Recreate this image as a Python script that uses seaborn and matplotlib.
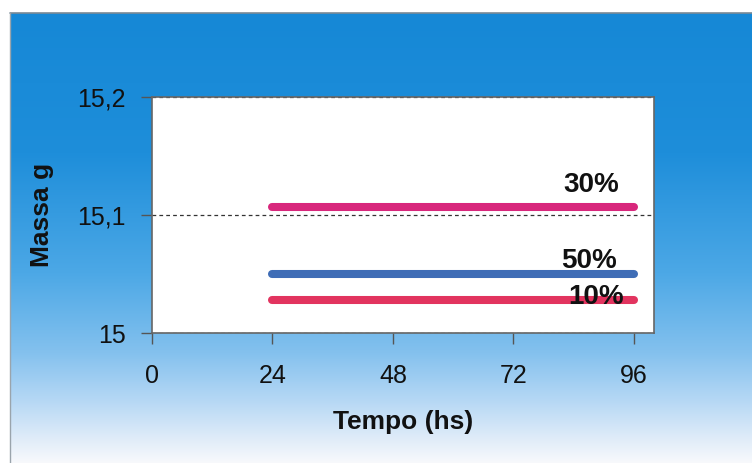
import numpy as np
import pandas as pd
import matplotlib
matplotlib.use("Agg")
import matplotlib.pyplot as plt
import seaborn as sns

# Measurements: sample mass over time for each concentration
tempo = [24, 48, 72, 96]
massa_30 = [15.107, 15.107, 15.107, 15.107]
massa_50 = [15.050, 15.050, 15.050, 15.050]
massa_10 = [15.028, 15.028, 15.028, 15.028]
series_names = ["30%", "50%", "10%"]
series_colors = ["#d8277c", "#3f6db6", "#e2345f"]

x_ticks = [0, 24, 48, 72, 96]
y_ticks = [15.0, 15.1, 15.2]
y_tick_labels = ["15", "15,1", "15,2"]

df = pd.DataFrame({
    "Tempo": tempo * 3,
    "Massa": massa_30 + massa_50 + massa_10,
    "Serie": [series_names[0]] * len(tempo)
             + [series_names[1]] * len(tempo)
             + [series_names[2]] * len(tempo),
})

sns.set_theme(style="white")
plt.rcParams["font.family"] = ["Liberation Sans", "DejaVu Sans"]

W, H = 752, 463
fig = plt.figure(figsize=(W / 100, H / 100), dpi=100)
fig.patch.set_facecolor("white")

# Blue-to-white gradient backdrop panel
bg = fig.add_axes([0, 0, 1, 1], zorder=0)
bg.set_xlim(0, 1)
bg.set_ylim(0, 1)
bg.set_axis_off()
panel_left = 10 / W
panel_top = 1 - 13 / H
stops_y = np.array([0.0, 140, 260, 340, 390, 430, 450]) / (H - 13)
stops_c = np.array([
    [22, 136, 214],
    [30, 142, 218],
    [76, 168, 230],
    [132, 193, 238],
    [184, 217, 245],
    [228, 238, 249],
    [248, 249, 252],
]) / 255.0
rows = np.linspace(0, 1, 500)
grad = np.stack([np.interp(rows, stops_y, stops_c[:, k]) for k in range(3)], axis=-1)
grad = grad[:, None, :]
bg.imshow(grad, extent=[panel_left, 1, 0, panel_top], aspect="auto",
          origin="upper", interpolation="bilinear")
bg.plot([panel_left, 1], [panel_top, panel_top], color="#7a8a96", lw=1.2)
bg.plot([panel_left, panel_left], [0, panel_top], color="#9aa4ac", lw=1.0)

# Plot area
ax = fig.add_axes([152 / W, 1 - 333 / H, (654 - 152) / W, (333 - 97) / H], zorder=1)
ax.set_facecolor("white")

sns.lineplot(data=df, x="Tempo", y="Massa", hue="Serie",
             palette=dict(zip(series_names, series_colors)),
             linewidth=5.8, legend=False, ax=ax,
             solid_capstyle="round", zorder=3)

ax.set_xlim(0, 100)
ax.set_ylim(15.0, 15.2)
ax.set_xticks(x_ticks)
ax.set_xticklabels([str(t) for t in x_ticks])
ax.set_yticks(y_ticks)
ax.set_yticklabels(y_tick_labels)

ax.yaxis.grid(True, linestyle=(0, (3, 2.5)), linewidth=0.9, color="#333333", zorder=1)
ax.xaxis.grid(False)
ax.set_axisbelow(True)

for side in ["left", "bottom", "top", "right"]:
    ax.spines[side].set_visible(True)
    ax.spines[side].set_color("#666666")
    ax.spines[side].set_linewidth(1.2)

ax.tick_params(axis="both", which="major", bottom=True, left=True,
               direction="out", length=8, width=1.0, color="#555555",
               labelsize=18, labelcolor="#111111")
ax.tick_params(axis="x", pad=14)
ax.tick_params(axis="y", pad=11)

ax.set_xlabel("Tempo (hs)", fontsize=19, fontweight="bold", color="#111111", labelpad=16)
ax.set_ylabel("Massa g", fontsize=19, fontweight="bold", color="#111111", labelpad=17)

# Series labels near the right end of each line
label_offsets = {"30%": (-31, 10.8), "50%": (-32, 4.3), "10%": (-27, -2.9)}
series_values = {"30%": massa_30, "50%": massa_50, "10%": massa_10}
for name in series_names:
    dx, dy = label_offsets[name]
    ax.annotate(name, xy=(tempo[-1], series_values[name][-1]),
                xytext=(dx, dy), textcoords="offset points",
                ha="center", va="baseline", fontsize=20, fontweight="bold",
                color="#111111", zorder=5)

fig.savefig("out.png", dpi=100)
